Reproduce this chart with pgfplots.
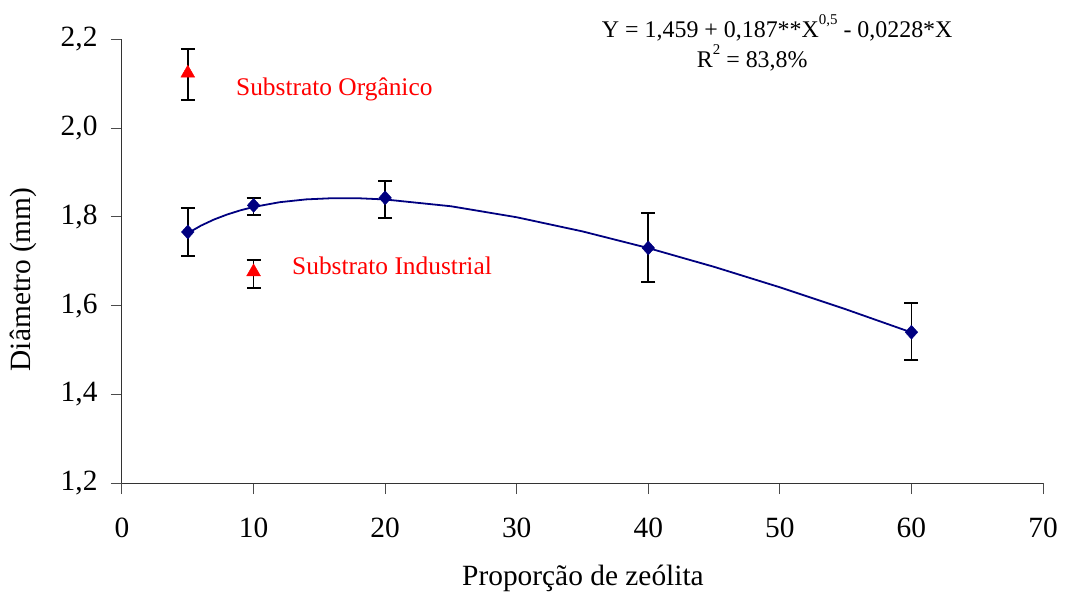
\documentclass[border=0pt]{standalone}
\usepackage{pgfplots}
\pgfplotsset{compat=1.18}
\usepackage{fontspec}
\setmainfont{Liberation Serif}
\definecolor{navyb}{RGB}{0,0,128}
\definecolor{redm}{RGB}{255,0,0}
\begin{document}
\begin{tikzpicture}
\useasboundingbox (-122bp,-113bp) rectangle (943bp,483bp);
\begin{axis}[
  scale only axis,
  width=921bp, height=443.5bp,
  xmin=0, xmax=70, ymin=1.2, ymax=2.2,
  axis lines=left,
  axis line style={-, line width=1pt, black!80},
  xtick={0,10,...,70},
  ytick={1.2,1.4,...,2.21},
  tick align=outside,
  major tick length=11bp,
  tick style={line width=1pt, black!70},
  /pgf/number format/assume math mode=true,
  /pgf/number format/use comma,
  yticklabel style={/pgf/number format/fixed, /pgf/number format/fixed zerofill, /pgf/number format/precision=1, xshift=-10bp},
  xticklabel style={yshift=-20bp},
  tick label style={font=\fontsize{29.5}{35}\selectfont},
  every axis x label/.style={at={(axis description cs:0.5005,-0.214)}, anchor=center, font=\fontsize{29.5}{35}\selectfont},
  every axis y label/.style={at={(axis description cs:-0.1075,0.459)}, anchor=center, rotate=90, font=\fontsize{29.5}{35}\selectfont},
  xlabel={Proporção de zeólita},
  ylabel={Diâmetro (mm)},
  clip=false,
]
\addplot[navyb, line width=1.8pt, no marks] coordinates {
(5,1.7632) (6,1.7803) (7,1.7942) (8,1.8055) (9,1.8148) (10,1.8224)
(12,1.8332) (14,1.8395) (16,1.8422) (18,1.8420) (20,1.8393)
(25,1.8240) (30,1.7992) (35,1.7673) (40,1.7297) (45,1.6874)
(50,1.6413) (55,1.5918) (60,1.5395)};
\addplot[only marks, mark=diamond*, mark size=7bp, mark options={navyb, fill=navyb, xscale=1.2},
  error bars/.cd, y dir=both, y explicit,
  error bar style={black, line width=1.6pt},
  error mark options={black, line width=1.6pt, mark size=7bp, rotate=90}]
coordinates {
(5,1.766) += (0,0.054) -= (0,0.054)
(10,1.826) += (0,0.017) -= (0,0.022)
(20,1.843) += (0,0.038) -= (0,0.046)
(40,1.730) += (0,0.079) -= (0,0.077)
(60,1.540) += (0,0.066) -= (0,0.063)
};
\addplot[only marks, mark=triangle*, mark size=8bp, mark options={redm, fill=redm},
  error bars/.cd, y dir=both, y explicit,
  error bar style={black, line width=1.6pt},
  error mark options={black, line width=1.6pt, mark size=7bp, rotate=90}]
coordinates {
(5,2.124) += (0,0.055) -= (0,0.060)
(10,1.676) += (0,0.027) -= (0,0.036)
};
\node[anchor=west, text=redm, font=\fontsize{25.5}{30}\selectfont, inner sep=0pt] at (axis cs:8.66,2.088) {Substrato Orgânico};
\node[anchor=west, text=redm, font=\fontsize{25.5}{30}\selectfont, inner sep=0pt] at (axis cs:12.92,1.689) {Substrato Industrial};
\node[font=\fontsize{24}{28}\selectfont, inner sep=0pt] at (axis cs:49.8,2.226) {Y = 1,459 + 0,187**X\raisebox{0.55em}{\fontsize{15}{15}\selectfont 0,5} - 0,0228*X};
\node[font=\fontsize{24}{28}\selectfont, inner sep=0pt] at (axis cs:47.9,2.158) {R\raisebox{0.55em}{\fontsize{15}{15}\selectfont 2} = 83,8\%};
\end{axis}
\end{tikzpicture}
\end{document}
